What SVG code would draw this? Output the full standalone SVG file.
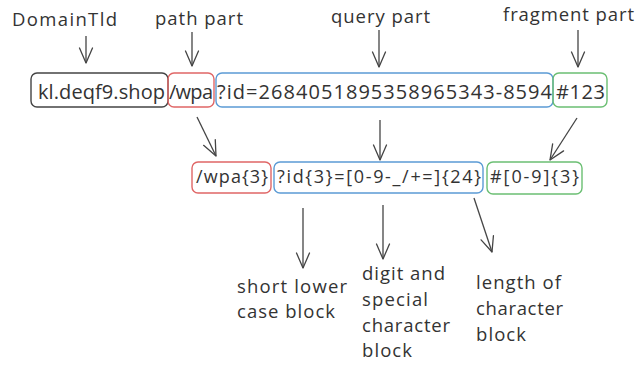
<svg xmlns="http://www.w3.org/2000/svg" width="636" height="365" viewBox="0 0 636 365">
  <defs>
    <marker id="head" viewBox="0 0 17 16" refX="16" refY="8" markerWidth="17" markerHeight="16" markerUnits="userSpaceOnUse" orient="auto">
      <polyline points="1,1.5 16,8 1,14.5" fill="none" stroke="#444" stroke-width="1.3" stroke-linecap="round" stroke-linejoin="round"/>
    </marker>
    <style>
      text { font-family: "Open Sans", "Noto Sans", "Liberation Sans", sans-serif; fill: #333; }
      .lbl { font-size: 18.5px; }
      .url { font-size: 20px; }
      .pat { font-size: 18px; }
      .box { fill: none; stroke-width: 1.4; }
      .dark { stroke: #444; }
      .red { stroke: #e06666; }
      .blue { stroke: #5b9bd5; }
      .green { stroke: #6bbf73; }
      .arrow { fill: none; stroke: #444; stroke-width: 1.3; marker-end: url(#head); }
    </style>
  </defs>
  <rect width="636" height="365" fill="#fff"/>

  <!-- top labels -->
  <g id="label-domain"><text class="lbl" x="12" y="26" textLength="105">DomainTld</text></g>
  <g id="label-path"><text class="lbl" x="155" y="25" textLength="88">path part</text></g>
  <g id="label-query"><text class="lbl" x="331" y="23" textLength="99">query part</text></g>
  <g id="label-fragment"><text class="lbl" x="503" y="21" textLength="131">fragment part</text></g>

  <!-- URL split into segments -->
  <g id="url-domain">
    <rect class="box dark" x="31" y="73" width="137" height="34" rx="6"/>
    <text class="url" x="38" y="99" textLength="127">kl.deqf9.shop</text>
  </g>
  <g id="url-path">
    <rect class="box red" x="168" y="73" width="46" height="34" rx="6"/>
    <text class="url" x="169" y="99" textLength="44">/wpa</text>
  </g>
  <g id="url-query">
    <rect class="box blue" x="216" y="73" width="337" height="34" rx="6"/>
    <text class="url" x="217" y="99" textLength="335">?id=2684051895358965343-8594</text>
  </g>
  <g id="url-fragment">
    <rect class="box green" x="553" y="73" width="54" height="34" rx="6"/>
    <text class="url" x="556" y="99" textLength="49">#123</text>
  </g>

  <!-- pattern segments -->
  <g id="pat-path">
    <rect class="box red" x="192" y="162" width="79" height="31" rx="6"/>
    <text class="pat" x="196" y="183" textLength="72">/wpa{3}</text>
  </g>
  <g id="pat-query">
    <rect class="box blue" x="274" y="162" width="209" height="31" rx="6"/>
    <text class="pat" x="277" y="183" textLength="204">?id{3}=[0-9-_/+=]{24}</text>
  </g>
  <g id="pat-fragment">
    <rect class="box green" x="487" y="162" width="95" height="32" rx="6"/>
    <text class="pat" x="490" y="183" textLength="89">#[0-9]{3}</text>
  </g>

  <!-- bottom descriptions -->
  <g id="desc-short">
    <text class="lbl" x="237" y="293" textLength="110">short lower</text>
    <text class="lbl" x="237" y="318" textLength="98">case block</text>
  </g>
  <g id="desc-digit">
    <text class="lbl" x="362" y="280" textLength="83">digit and</text>
    <text class="lbl" x="362" y="306" textLength="66">special</text>
    <text class="lbl" x="362" y="332" textLength="88">character</text>
    <text class="lbl" x="362" y="357" textLength="50">block</text>
  </g>
  <g id="desc-length">
    <text class="lbl" x="476" y="289" textLength="85">length of</text>
    <text class="lbl" x="476" y="315" textLength="87">character</text>
    <text class="lbl" x="476" y="341" textLength="50">block</text>
  </g>

  <!-- connectors -->
  <g id="connectors">
    <line class="arrow" x1="86" y1="36" x2="86" y2="63"/>
    <line class="arrow" x1="192" y1="32" x2="192" y2="66"/>
    <line class="arrow" x1="379" y1="30" x2="379" y2="67"/>
    <line class="arrow" x1="578" y1="30" x2="578" y2="67"/>
    <line class="arrow" x1="197" y1="117" x2="216" y2="156"/>
    <line class="arrow" x1="380" y1="120" x2="380" y2="160"/>
    <line class="arrow" x1="577" y1="118" x2="550" y2="160"/>
    <line class="arrow" x1="303" y1="208" x2="303" y2="268"/>
    <line class="arrow" x1="383" y1="205" x2="383" y2="259"/>
    <line class="arrow" x1="474" y1="198" x2="492" y2="252"/>
  </g>
</svg>
